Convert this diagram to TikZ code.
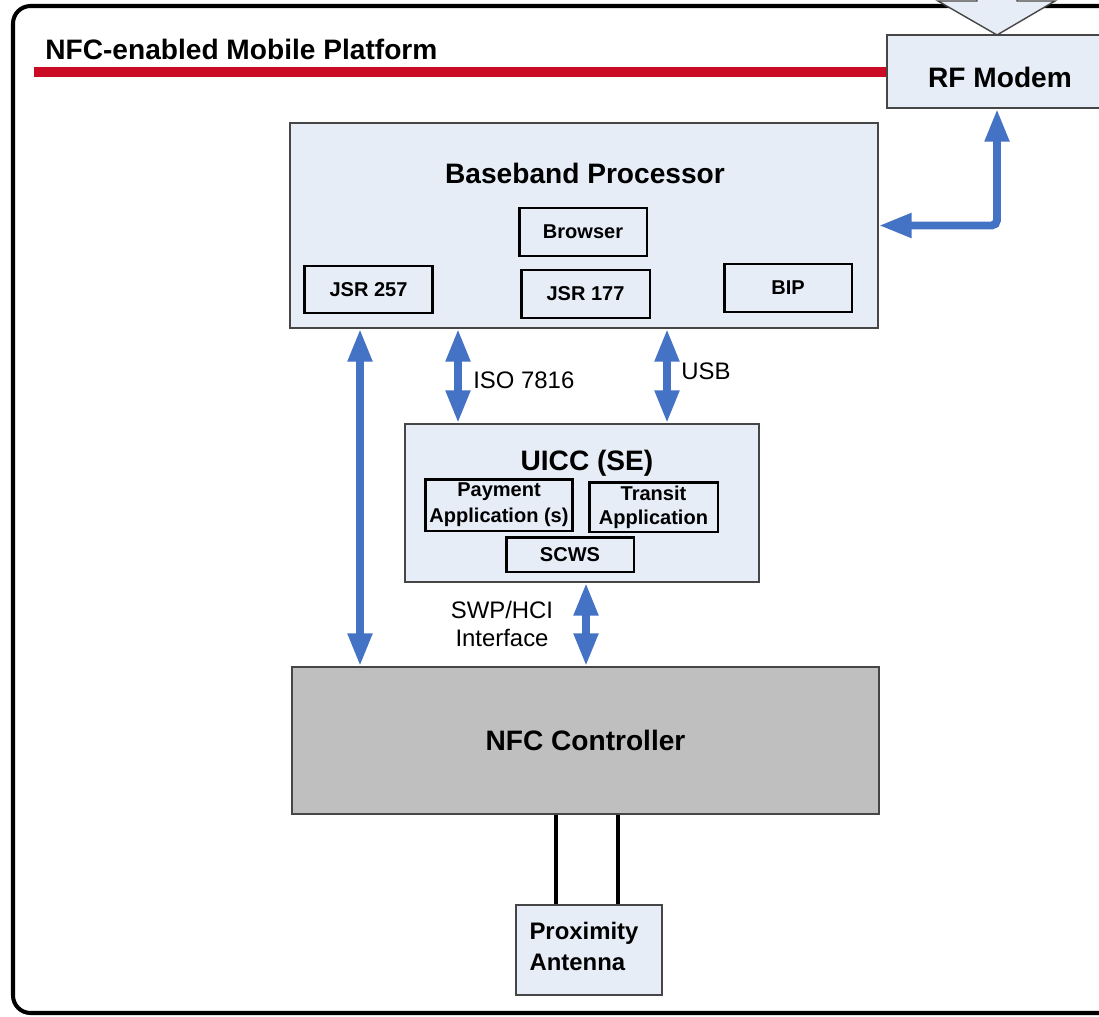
\documentclass[tikz,border=0pt]{standalone}
\usepackage{fontspec}
\setmainfont{Liberation Sans}
\usetikzlibrary{arrows.meta}

\definecolor{boxfill}{RGB}{231,237,247}
\definecolor{linkblue}{RGB}{68,114,196}
\definecolor{ctrlgray}{RGB}{191,191,191}
\definecolor{edgegray}{RGB}{70,70,70}
\definecolor{barred}{RGB}{204,12,36}

\tikzset{
  block/.style={draw=edgegray, line width=0.8pt, fill=boxfill, inner sep=0pt},
  subblock/.style={draw=black, line width=1.7pt, fill=boxfill, inner sep=0pt,
    align=center, font=\fontsize{11.4}{13.6}\selectfont\bfseries},
  heading/.style={inner sep=0pt, font=\fontsize{16}{19}\selectfont\bfseries},
  tag/.style={inner sep=0pt, align=center, font=\fontsize{13.6}{15.9}\selectfont},
  link/.style={{Triangle[length=18.7pt,width=13pt]}-{Triangle[length=18.7pt,width=13pt]},
    draw=linkblue, line width=4.5pt},
  wire/.style={draw=black, line width=2.3pt}
}

\begin{document}
\begin{tikzpicture}[x=0.02cm, y=-0.02cm]
\useasboundingbox (0,0) rectangle (1099,1017);
\clip (0,0) rectangle (1099,1017);

% A. Outer frame of the platform and its red title bar
\draw[line width=2.3pt, rounded corners=10pt] (13,6) rectangle (1130,1013);
\fill[barred] (34,67) rectangle (900,77);
\node[heading, anchor=base west] (platform) at (45,60) {NFC-enabled Mobile Platform};

% B. RF modem with the block arrow coming in from above
\node[block, minimum width=4.52cm, minimum height=1.46cm] (rf) at (1000,71.5) {};
\node[heading] (rfname) at (1000,77) {RF Modem};
\filldraw[fill=boxfill, draw=edgegray, line width=0.8pt]
  (977,-10) -- (977,1) -- (938,1) -- (997,35) -- (1055,1) -- (1017,1) -- (1017,-10);

% C. Baseband processor and what runs on it
\node[block, minimum width=11.76cm, minimum height=4.10cm] (bb) at (584,225.5) {};
\node[heading] (bbname) at (585,173) {Baseband Processor};
\node[subblock, minimum width=2.56cm, minimum height=0.96cm] (browser) at (583,232) {Browser};
\node[subblock, minimum width=2.58cm, minimum height=0.94cm] (jsra) at (368.5,289.5) {JSR 257};
\node[subblock, minimum width=2.58cm, minimum height=0.96cm] (jsrb) at (585.5,294) {JSR 177};
\node[subblock, minimum width=2.56cm, minimum height=0.96cm] (bip) at (788,288) {BIP};

% D. UICC secure element with its applications
\node[block, minimum width=7.08cm, minimum height=3.16cm] (uicc) at (582,503) {};
\node[heading] (uiccname) at (587,463) {UICC (SE)};
\node[subblock, minimum width=2.96cm, minimum height=1.04cm,
  font=\fontsize{11.4}{14.7}\selectfont\bfseries] (pay) at (499,505) {Payment\\Application (s)};
\node[subblock, minimum width=2.58cm, minimum height=1.00cm] (transit) at (653.5,507) {Transit\\Application};
\node[subblock, minimum width=2.56cm, minimum height=0.70cm] (scws) at (570,554.5) {SCWS};

% E. NFC controller and the antenna below it
\node[block, heading, fill=ctrlgray, minimum width=11.74cm, minimum height=2.94cm] (nfc) at (585.5,740.5) {NFC Controller};
\node[block, minimum width=2.92cm, minimum height=1.80cm] (ant) at (589,950) {};
\node[inner sep=0pt, align=left, font=\fontsize{13.6}{17.6}\selectfont\bfseries]
  (antname) at (584,946) {Proximity\\Antenna};
\draw[wire] (556,0 |- nfc.south) -- (556,0 |- ant.north);
\draw[wire] (618,0 |- nfc.south) -- (618,0 |- ant.north);

% F. Blue links between the blocks
\draw[link] (360,0 |- bb.south) -- (360,0 |- nfc.north);
\draw[link] (458,0 |- bb.south) -- (458,0 |- uicc.north);
\draw[link] (667,0 |- bb.south) -- (667,0 |- uicc.north);
\draw[link] (586,0 |- uicc.south) -- (586,0 |- nfc.north);
\draw[link, rounded corners=3pt] (bb.east) -| (997,0 |- rf.south);

% G. Link labels
\node[tag, anchor=west] (iso) at (473,380) {ISO 7816};
\node[tag, anchor=west] (usb) at (681,371) {USB};
\node[tag] (swp) at (502,624) {SWP/HCI\\Interface};

\end{tikzpicture}
\end{document}
